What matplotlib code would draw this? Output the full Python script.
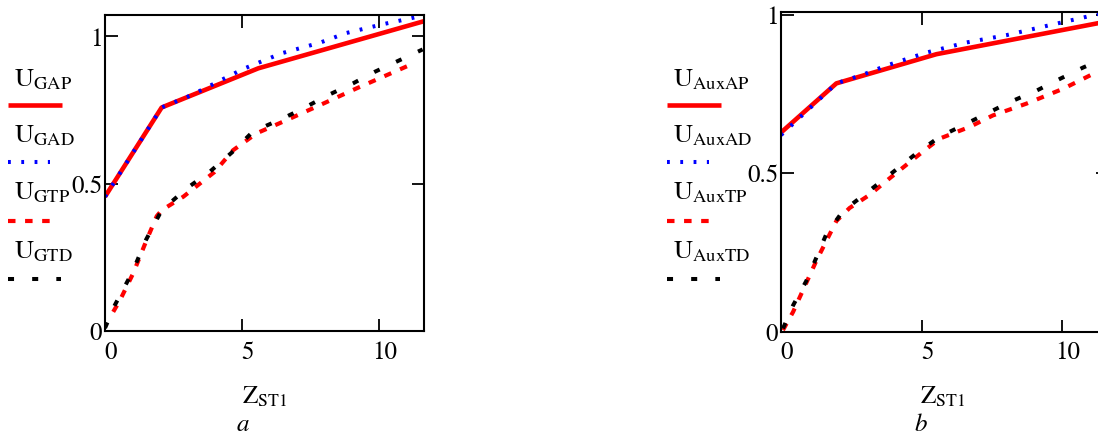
import matplotlib
matplotlib.use('Agg')
import matplotlib.pyplot as plt
import matplotlib.transforms as mtransforms
from matplotlib.lines import Line2D

plt.rcParams['font.family'] = ['STIXGeneral', 'DejaVu Serif']
plt.rcParams['mathtext.fontset'] = 'stix'

# ---- chart a ----
x_gap = [0, 2.07, 5.6, 11.65]
u_gap = [0.456, 0.759, 0.892, 1.052]

x_gad = [0, 2.07, 3.16, 5.05, 6.45, 7.85, 8.82, 10.16, 11.13, 11.65]
u_gad = [0.456, 0.759, 0.801, 0.89, 0.943, 0.979, 1.012, 1.042, 1.061, 1.072]

x_gtp = [0.3, 0.55, 1.03, 1.52, 1.89, 2.07, 2.86, 4.0, 4.68, 5.53, 6.63, 7.85, 9.19, 11.13]
u_gtp = [0.065, 0.105, 0.196, 0.309, 0.39, 0.41, 0.456, 0.54, 0.614, 0.671, 0.716, 0.767, 0.824, 0.903]

x_gtd = [0, 0.36, 1.0, 1.5, 2.07, 2.98, 3.83, 4.68, 5.4, 6.5, 7.24, 8.15, 9.06, 9.85, 10.77, 11.6]
u_gtd = [0.01, 0.088, 0.2, 0.31, 0.41, 0.484, 0.541, 0.61, 0.677, 0.722, 0.756, 0.801, 0.841, 0.88, 0.92, 0.956]

# ---- chart b ----
x_auxap = [0, 1.97, 5.53, 11.65]
u_auxap = [0.628, 0.783, 0.875, 0.979]

x_auxad = [0, 1.97, 2.9, 3.75, 5.17, 6.6, 8.02, 9.44, 10.87, 11.65]
u_auxad = [0.62, 0.783, 0.81, 0.839, 0.88, 0.912, 0.935, 0.964, 0.993, 1.01]

x_auxtp = [0.07, 0.43, 1.26, 1.97, 2.44, 3.16, 3.87, 5.05, 5.65, 6.72, 7.54, 8.73, 10.04, 11.22, 11.65]
u_auxtp = [0.005, 0.0625, 0.224, 0.349, 0.39, 0.432, 0.484, 0.568, 0.609, 0.646, 0.682, 0.719, 0.766, 0.818, 0.835]

x_auxtd = [0.07, 0.43, 0.9, 1.26, 1.61, 2.2, 3.04, 3.87, 4.82, 5.65, 6.48, 7.31, 8.14, 9.09, 9.92, 10.75, 11.2, 11.65]
u_auxtd = [0.01, 0.083, 0.16, 0.234, 0.307, 0.38, 0.4375, 0.495, 0.5625, 0.615, 0.651, 0.6875, 0.724, 0.76, 0.797, 0.833, 0.85, 0.865]

xticks = [0, 5, 10]
yticks = [0, 0.5, 1]
ytick_labels = ['0', '0.5', '1']

sty_ap = dict(color='#ff0000', lw=3.3, solid_capstyle='butt')
sty_ad = dict(color='#0000ff', lw=2.9, dashes=(0.7, 2.6))
sty_tp = dict(color='#ff0000', lw=3.0, dashes=(1.8, 2.3))
sty_td = dict(color='#000000', lw=2.9, dashes=(1.5, 4.5))
# length of the legend sample for each style, px
sample_len = [54, 42, 42, 53]

W, H = 1098, 436
fig = plt.figure(figsize=(W / 100, H / 100), dpi=100)


def make_panel(rect, ylim, data, names, legx, tag, labx):
    ax = fig.add_axes(rect)
    styles = [sty_ap, sty_ad, sty_tp, sty_td]
    for (xs, ys), st in zip(data, styles):
        ax.plot(xs, ys, **st)
    ax.set_xlim(0, 11.65)
    ax.set_ylim(*ylim)
    ax.set_xticks(xticks)
    ax.set_xticklabels([str(t) for t in xticks])
    ax.set_yticks(yticks)
    ax.set_yticklabels(ytick_labels)
    ax.tick_params(direction='in', length=9, width=1.3, top=True, right=True,
                   labelsize=18, pad=2)
    ax.tick_params(axis='x', pad=7)
    for s in ax.spines.values():
        s.set_linewidth(1.5)
    # Mathcad puts x labels a little right of the tick
    off = mtransforms.ScaledTranslation(6 / 100, 0, fig.dpi_scale_trans)
    for lab in ax.get_xticklabels():
        lab.set_transform(lab.get_transform() + off)

    # legend column on the left
    text_y = [80, 136, 193, 252]
    line_y = [105, 162, 221, 279]
    for nm, st, ty, ly, ln_len in zip(names, styles, text_y, line_y, sample_len):
        fig.text((legx + 6) / W, 1 - ty / H, nm, fontsize=19,
                 ha='left', va='center')
        ln = Line2D([legx / W, (legx + ln_len) / W], [1 - ly / H, 1 - ly / H],
                    transform=fig.transFigure, **st)
        fig.add_artist(ln)

    fig.text(labx / W, 1 - 397 / H, r'$\mathrm{Z_{ST1}}$', fontsize=18,
             ha='center', va='center')
    fig.text((labx - 22) / W, 1 - 425 / H, tag, fontsize=18,
             style='italic', ha='center', va='center')
    return ax


make_panel([105 / W, 1 - 331 / H, 319 / W, 316 / H], (0, 1.073),
           [(x_gap, u_gap), (x_gad, u_gad), (x_gtp, u_gtp), (x_gtd, u_gtd)],
           [r'$\mathrm{U_{GAP}}$', r'$\mathrm{U_{GAD}}$',
            r'$\mathrm{U_{GTP}}$', r'$\mathrm{U_{GTD}}$'],
           8, 'a', 265)

make_panel([781 / W, 1 - 331.7 / H, 327.4 / W, 320 / H], (0, 1.009),
           [(x_auxap, u_auxap), (x_auxad, u_auxad), (x_auxtp, u_auxtp), (x_auxtd, u_auxtd)],
           [r'$\mathrm{U_{AuxAP}}$', r'$\mathrm{U_{AuxAD}}$',
            r'$\mathrm{U_{AuxTP}}$', r'$\mathrm{U_{AuxTD}}$'],
           667, 'b', 943)

fig.savefig('out.png', dpi=100)
